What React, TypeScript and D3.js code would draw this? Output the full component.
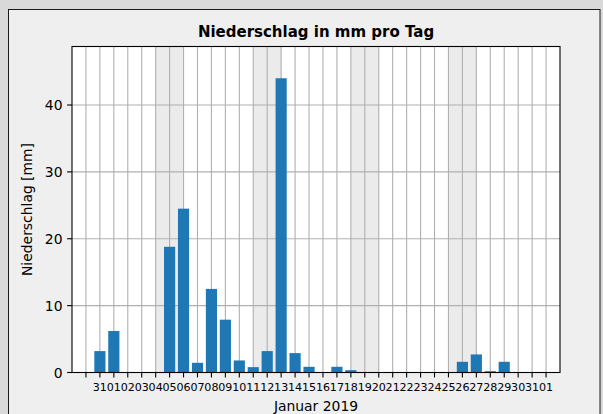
import React from "react";
import * as d3 from "d3";

const dates: string[] = [
  "2018-12-31", "2019-01-01", "2019-01-02", "2019-01-03", "2019-01-04", "2019-01-05",
  "2019-01-06", "2019-01-07", "2019-01-08", "2019-01-09", "2019-01-10", "2019-01-11",
  "2019-01-12", "2019-01-13", "2019-01-14", "2019-01-15", "2019-01-16", "2019-01-17",
  "2019-01-18", "2019-01-19", "2019-01-20", "2019-01-21", "2019-01-22", "2019-01-23",
  "2019-01-24", "2019-01-25", "2019-01-26", "2019-01-27", "2019-01-28", "2019-01-29",
  "2019-01-30", "2019-01-31", "2019-02-01",
];
const precip: number[] = [
  3.2, 6.2, 0, 0, 0, 18.8,
  24.5, 1.45, 12.5, 7.9, 1.8, 0.8,
  3.2, 44.0, 2.9, 0.85, 0, 0.85,
  0.35, 0, 0, 0, 0, 0,
  0, 0, 1.6, 2.7, 0.2, 1.6,
  0, 0, 0,
];
const weekendSaturdays: string[] = ["2019-01-05", "2019-01-12", "2019-01-19", "2019-01-26"];
const yTicks: number[] = [0, 10, 20, 30, 40];
const title = "Niederschlag in mm pro Tag";
const xLabel = "Januar 2019";
const yLabel = "Niederschlag [mm]";

const parse = d3.utcParse("%Y-%m-%d");
const fmt = d3.utcFormat("%d");

export default function App() {
  const W = 603, H = 414;
  const left = 72, right = 560, top = 46.5, bottom = 372.5;
  const x = d3.scaleUtc()
    .domain([parse("2018-12-29")!, parse("2019-02-02")!])
    .range([left, right]);
  const y = d3.scaleLinear().domain([0, 48.75]).range([bottom, top]);
  const dayW = x(parse("2019-01-02")!) - x(parse("2019-01-01")!);
  const barW = dayW * 0.8;
  const tickDates = d3.utcDay.range(parse("2018-12-30")!, parse("2019-02-02")!);
  const labelDates = dates.map((d) => parse(d)!);
  const font = "DejaVu Sans, sans-serif";
  const tickLen = 4.9;

  return (
    <svg width={W} height={H} style={{ position: "absolute", left: 0, top: 0, display: "block" }}>
      <rect x={0} y={0} width={W} height={H} fill="#d9d9d9" />
      <rect x={8.5} y={9.5} width={591.5} height={H + 10} fill="#efefef" stroke="#1a1a1a" strokeWidth={1} />
      {/* axes area */}
      <rect x={left} y={top} width={right - left} height={bottom - top} fill="#ffffff" />
      {weekendSaturdays.map((s) => {
        const d = parse(s)!;
        const x0 = x(d3.utcDay.offset(d, -1));
        const x1 = x(d3.utcDay.offset(d, 1));
        return <rect key={s} x={x0} y={top} width={x1 - x0} height={bottom - top} fill="#ebebeb" />;
      })}
      {tickDates.map((d, i) => (
        <line key={"gx" + i} x1={x(d)} x2={x(d)} y1={top} y2={bottom} stroke="#b0b0b0" strokeWidth={1.1} />
      ))}
      {yTicks.map((v) => (
        <line key={"gy" + v} x1={left} x2={right} y1={y(v)} y2={y(v)} stroke="#b0b0b0" strokeWidth={1.1} />
      ))}
      {labelDates.map((d, i) => (
        <rect key={"b" + i} x={x(d) - barW / 2} y={y(precip[i])} width={barW}
          height={y(0) - y(precip[i])} fill="#1f77b4" />
      ))}
      <rect x={left} y={top} width={right - left} height={bottom - top} fill="none" stroke="#000" strokeWidth={1.1} />
      {tickDates.map((d, i) => (
        <line key={"tx" + i} x1={x(d)} x2={x(d)} y1={bottom} y2={bottom + tickLen} stroke="#000" strokeWidth={1.1} />
      ))}
      {labelDates.map((d, i) => (
        <text key={"lx" + i} x={x(d)} y={391} textAnchor="middle" fontFamily={font} fontSize={11.1} fill="#000">
          {fmt(d)}
        </text>
      ))}
      {yTicks.map((v) => (
        <g key={"ty" + v}>
          <line x1={left - tickLen} x2={left} y1={y(v)} y2={y(v)} stroke="#000" strokeWidth={1.1} />
          <text x={left - 9.5} y={y(v)} dy="0.36em" textAnchor="end" fontFamily={font} fontSize={13.9} fill="#000">
            {v}
          </text>
        </g>
      ))}
      <text x={(left + right) / 2} y={37} textAnchor="middle" fontFamily={font} fontWeight="bold" fontSize={15} fill="#000">
        {title}
      </text>
      <text x={(left + right) / 2} y={411} textAnchor="middle" fontFamily={font} fontSize={13.9} fill="#000">
        {xLabel}
      </text>
      <text transform={`translate(32, ${(top + bottom) / 2}) rotate(-90)`} textAnchor="middle" fontFamily={font} fontSize={13.9} fill="#000">
        {yLabel}
      </text>
    </svg>
  );
}
